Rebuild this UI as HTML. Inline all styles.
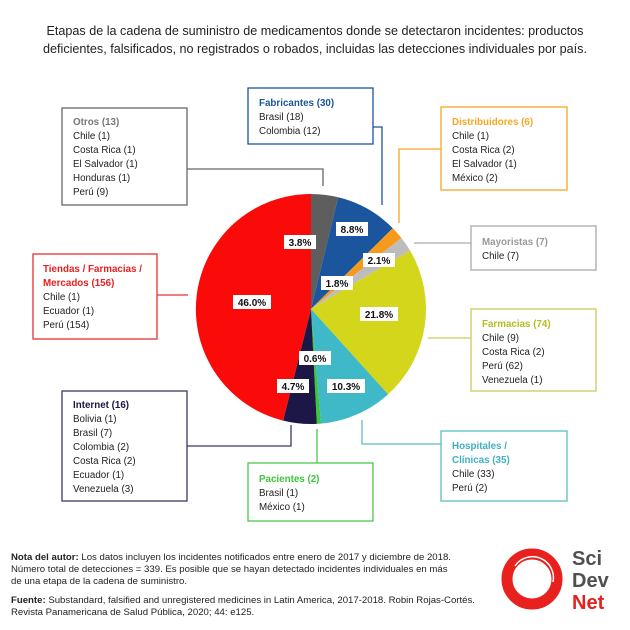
<!DOCTYPE html>
<html><head><meta charset="utf-8"><style>
body{margin:0;background:#fff;}
svg{display:block;font-family:"Liberation Sans",sans-serif;}
.t{font-size:9.8px;fill:#222;}
.h{font-size:9.8px;font-weight:bold;}
.p{font-size:10px;font-weight:bold;fill:#111;}
</style></head><body>
<svg width="630" height="630" viewBox="0 0 630 630" xmlns="http://www.w3.org/2000/svg">
<rect width="630" height="630" fill="#fff"/>
<text x="315" y="35" text-anchor="middle" font-size="12.6" fill="#222">Etapas de la cadena de suministro de medicamentos donde se detectaron incidentes: productos</text>
<text x="315" y="53" text-anchor="middle" font-size="12.6" fill="#222">deficientes, falsificados, no registrados o robados, incluidas las detecciones individuales por país.</text>

<g>
<path d="M311,309 L311,194 A115,115 0 0 1 338.2,197.3 Z" fill="#5e5e5e"/>
<path d="M311,309 L338.2,197.3 A115,115 0 0 1 392.8,228.2 Z" fill="#1a559e"/>
<path d="M311,309 L392.8,228.2 A115,115 0 0 1 401.4,238.0 Z" fill="#f59a1b"/>
<path d="M311,309 L401.4,238.0 A115,115 0 0 1 410.0,250.5 Z" fill="#bdbdbd"/>
<path d="M311,309 L410.0,250.5 A115,115 0 0 1 388.1,394.3 Z" fill="#d3d61a"/>
<path d="M311,309 L388.1,394.3 A115,115 0 0 1 321.1,423.6 Z" fill="#3fb9c7"/>
<path d="M311,309 L321.1,423.6 A115,115 0 0 1 316.8,423.9 Z" fill="#3ec43e"/>
<path d="M311,309 L316.8,423.9 A115,115 0 0 1 283.1,420.6 Z" fill="#1d1747"/>
<path d="M311,309 L283.1,420.6 A115,115 0 0 1 311,194 Z" fill="#fb0a0a"/>
</g>
<g>
<rect x="284" y="235" width="32" height="14" fill="#fff"/><text class="p" x="300" y="246" text-anchor="middle">3.8%</text>
<rect x="336" y="222" width="32" height="14" fill="#fff"/><text class="p" x="352" y="233" text-anchor="middle">8.8%</text>
<rect x="363" y="253" width="32" height="14" fill="#fff"/><text class="p" x="379" y="264" text-anchor="middle">2.1%</text>
<rect x="321" y="276" width="32" height="14" fill="#fff"/><text class="p" x="337" y="287" text-anchor="middle">1.8%</text>
<rect x="233" y="295" width="38" height="14" fill="#fff"/><text class="p" x="252" y="306" text-anchor="middle">46.0%</text>
<rect x="360" y="307" width="38" height="14" fill="#fff"/><text class="p" x="379" y="318" text-anchor="middle">21.8%</text>
<rect x="299" y="351" width="32" height="14" fill="#fff"/><text class="p" x="315" y="362" text-anchor="middle">0.6%</text>
<rect x="277" y="379" width="32" height="14" fill="#fff"/><text class="p" x="293" y="390" text-anchor="middle">4.7%</text>
<rect x="327" y="379" width="38" height="14" fill="#fff"/><text class="p" x="346" y="390" text-anchor="middle">10.3%</text>
</g>

<g fill="none" stroke-width="1.3">
<rect x="62" y="108" width="125" height="97" stroke="#666"/>
<polyline points="187,169 323,169 323,186" stroke="#666"/>
<rect x="248" y="88" width="125" height="56" stroke="#1a559e"/>
<polyline points="373,127 382,127 382,205" stroke="#1a559e"/>
<rect x="441" y="107" width="126" height="83" stroke="#f5a623"/>
<polyline points="441,149 399,149 399,223" stroke="#f5a623"/>
<rect x="471" y="226" width="125" height="44" stroke="#aaa"/>
<polyline points="471,243 414,243" stroke="#aaa"/>
<rect x="33" y="254" width="124" height="85" stroke="#e83030"/>
<polyline points="157,295 188,295" stroke="#e83030"/>
<rect x="471" y="309" width="125" height="82" stroke="#c9cc5a"/>
<polyline points="471,338 428,338" stroke="#c9cc5a"/>
<rect x="62" y="391" width="125" height="110" stroke="#3a3860"/>
<polyline points="187,446 291,446 291,425" stroke="#3a3860"/>
<rect x="441" y="431" width="126" height="70" stroke="#5bbcc7"/>
<polyline points="441,444 362,444 362,420" stroke="#5bbcc7"/>
<rect x="248" y="463" width="125" height="58" stroke="#4cc84c"/>
<polyline points="317,463 317,429" stroke="#4cc84c"/>
</g>

<text class="h" x="73" y="125" fill="#777">Otros (13)</text>
<text class="t" x="73" y="139">Chile (1)</text>
<text class="t" x="73" y="153">Costa Rica (1)</text>
<text class="t" x="73" y="167">El Salvador (1)</text>
<text class="t" x="73" y="181">Honduras (1)</text>
<text class="t" x="73" y="195">Perú (9)</text>

<text class="h" x="259" y="106" fill="#1a559e">Fabricantes (30)</text>
<text class="t" x="259" y="120">Brasil (18)</text>
<text class="t" x="259" y="134">Colombia (12)</text>

<text class="h" x="452" y="125" fill="#f5a623">Distribuidores (6)</text>
<text class="t" x="452" y="139">Chile (1)</text>
<text class="t" x="452" y="153">Costa Rica (2)</text>
<text class="t" x="452" y="167">El Salvador (1)</text>
<text class="t" x="452" y="181">México (2)</text>

<text class="h" x="482" y="245" fill="#999">Mayoristas (7)</text>
<text class="t" x="482" y="259">Chile (7)</text>

<text class="h" x="43" y="272" fill="#e82020">Tiendas / Farmacias /</text>
<text class="h" x="43" y="286" fill="#e82020">Mercados (156)</text>
<text class="t" x="43" y="300">Chile (1)</text>
<text class="t" x="43" y="314">Ecuador (1)</text>
<text class="t" x="43" y="328">Perú (154)</text>

<text class="h" x="482" y="327" fill="#b8bb20">Farmacias (74)</text>
<text class="t" x="482" y="341">Chile (9)</text>
<text class="t" x="482" y="355">Costa Rica (2)</text>
<text class="t" x="482" y="369">Perú (62)</text>
<text class="t" x="482" y="383">Venezuela (1)</text>

<text class="h" x="73" y="408" fill="#1d1747">Internet (16)</text>
<text class="t" x="73" y="422">Bolivia (1)</text>
<text class="t" x="73" y="436">Brasil (7)</text>
<text class="t" x="73" y="450">Colombia (2)</text>
<text class="t" x="73" y="464">Costa Rica (2)</text>
<text class="t" x="73" y="478">Ecuador (1)</text>
<text class="t" x="73" y="492">Venezuela (3)</text>

<text class="h" x="452" y="449" fill="#3fb0c0">Hospitales /</text>
<text class="h" x="452" y="463" fill="#3fb0c0">Clínicas (35)</text>
<text class="t" x="452" y="477">Chile (33)</text>
<text class="t" x="452" y="491">Perú (2)</text>

<text class="h" x="259" y="482" fill="#3ec43e">Pacientes (2)</text>
<text class="t" x="259" y="496">Brasil (1)</text>
<text class="t" x="259" y="510">México (1)</text>

<g font-size="9.6" fill="#222">
<text x="11" y="560"><tspan font-weight="bold">Nota del autor:</tspan> Los datos incluyen los incidentes notificados entre enero de 2017 y diciembre de 2018.</text>
<text x="11" y="572">Número total de detecciones = 339. Es posible que se hayan detectado incidentes individuales en más</text>
<text x="11" y="584">de una etapa de la cadena de suministro.</text>
<text x="11" y="603"><tspan font-weight="bold">Fuente:</tspan> Substandard, falsified and unregistered medicines in Latin America, 2017-2018. Robin Rojas-Cortés.</text>
<text x="11" y="615">Revista Panamericana de Salud Pública, 2020; 44: e125.</text>
</g>

<circle cx="532" cy="579" r="25" fill="none" stroke="#e8211e" stroke-width="11"/>
<path d="M515,566 A21,21 0 0 1 553,582" fill="none" stroke="#fff" stroke-width="1.5"/>
<g font-weight="bold" font-size="20">
<text x="572" y="565" fill="#505050">Sci</text>
<text x="572" y="587" fill="#505050">Dev</text>
<text x="572" y="609" fill="#e8211e">Net</text>
</g>
</svg>
</body></html>
